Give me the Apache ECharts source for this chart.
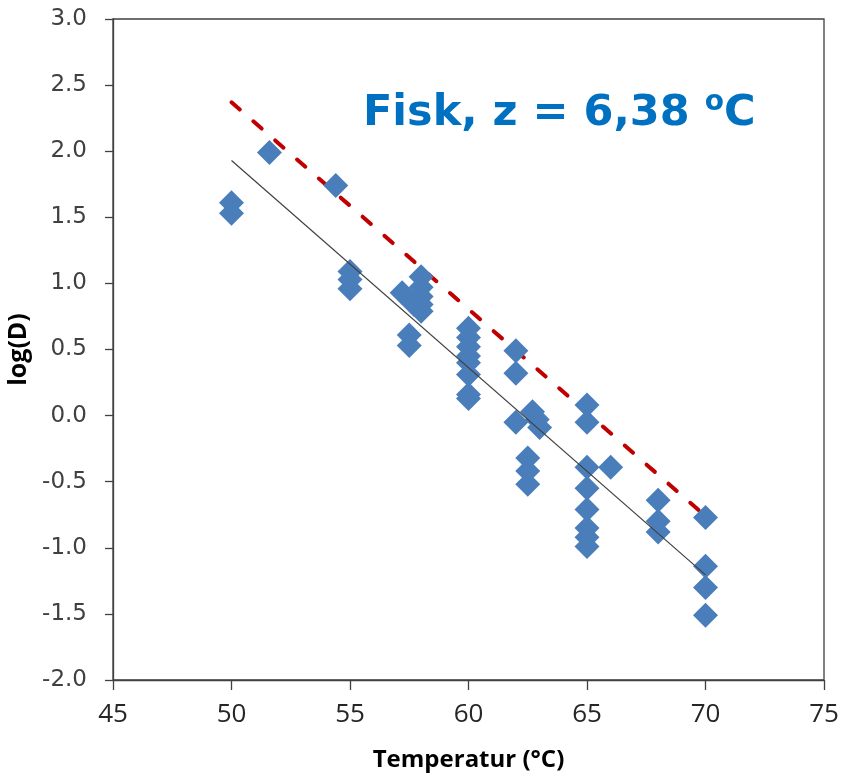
<!DOCTYPE html>
<html>
<head>
<meta charset="utf-8">
<script src="https://cdn.jsdelivr.net/npm/echarts@6/dist/echarts.min.js"></script>
<style>
html,body{margin:0;padding:0;background:#fff;}
#chart{width:848px;height:779px;}
</style>
</head>
<body>
<div id="chart"></div>
<script>
// Measured points: temperature (°C) and log(D)
const tempX = [50, 50, 51.6, 54.4, 55, 55, 55, 57.2, 57.7, 57.5, 57.5, 58, 58, 58, 58, 58,
  60, 60, 60, 60, 60, 60, 60, 60, 62, 62, 62, 62.7, 62.9, 63.0, 62.5, 62.5, 62.5,
  65, 65, 65, 66, 65, 65, 65, 65, 65, 68, 68, 68, 70, 70, 70, 70];
const logD = [1.61, 1.53, 1.99, 1.74, 1.09, 1.03, 0.96, 0.93, 0.84, 0.61, 0.53, 1.05, 0.97, 0.90, 0.84, 0.79,
  0.66, 0.59, 0.52, 0.45, 0.40, 0.31, 0.16, 0.13, 0.49, 0.32, -0.05, 0.03, -0.03, -0.09, -0.32, -0.42, -0.52,
  0.08, -0.05, -0.39, -0.39, -0.55, -0.71, -0.85, -0.92, -0.99, -0.64, -0.80, -0.88, -0.77, -1.14, -1.30, -1.51];
// Regression line (solid) and safety line (dashed)
const fitX = [50, 70];
const fitY = [1.93, -1.205];
const dashX = [50, 70];
const dashY = [2.37, -0.76];
// Axis ticks
const xTicks = [45, 50, 55, 60, 65, 70, 75];
const yTicks = [-2.0, -1.5, -1.0, -0.5, 0.0, 0.5, 1.0, 1.5, 2.0, 2.5, 3.0];
const annotation = ['Fisk, z = 6,38 ', 'o', 'C'];

const scatterData = tempX.map((x, i) => [x, logD[i]]);
const fitData = fitX.map((x, i) => [x, fitY[i]]);
const dashData = dashX.map((x, i) => [x, dashY[i]]);

const axisColor = '#404040';
const chart = echarts.init(document.getElementById('chart'));
chart.setOption({
  animation: false,
  backgroundColor: '#ffffff',
  grid: {
    left: 113, top: 19, right: 24, bottom: 99,
    outerBoundsMode: 'none', containLabel: false,
    show: true, borderColor: axisColor, borderWidth: 1.3, backgroundColor: 'transparent'
  },
  xAxis: {
    type: 'value',
    min: xTicks[0], max: xTicks[xTicks.length - 1], interval: 5,
    name: 'Temperatur (°C)', nameLocation: 'middle', nameGap: 68,
    nameTextStyle: { fontFamily: 'Open Sans', fontWeight: 'bold', fontSize: 24, color: '#000' },
    axisLine: { onZero: false, lineStyle: { color: axisColor, width: 1.3 } },
    axisTick: { show: true, length: 10, inside: false, lineStyle: { color: axisColor, width: 1.3 } },
    axisLabel: { fontFamily: 'Open Sans', fontSize: 26, color: '#262626', margin: 22,
      formatter: v => String(v) },
    splitLine: { show: false }
  },
  yAxis: {
    type: 'value',
    min: yTicks[0], max: yTicks[yTicks.length - 1], interval: 0.5,
    name: 'log(D)', nameLocation: 'middle', nameGap: 71, nameRotate: 90,
    nameTextStyle: { fontFamily: 'Open Sans', fontWeight: 'bold', fontSize: 25, color: '#000' },
    axisLine: { show: true, onZero: false, lineStyle: { color: axisColor, width: 1.3 } },
    axisTick: { show: true, length: 8, inside: false, lineStyle: { color: axisColor, width: 1.3 } },
    axisLabel: { fontFamily: 'DejaVu Sans', fontSize: 23, color: '#404040', margin: 26,
      formatter: v => v.toFixed(1) },
    splitLine: { show: false }
  },
  series: [
    {
      type: 'line', data: dashData, symbol: 'none', z: 2,
      lineStyle: { color: '#C00000', width: 4, type: [11, 18], cap: 'round' }
    },
    {
      type: 'scatter', data: scatterData, symbol: 'diamond', symbolSize: 25, z: 3,
      itemStyle: { color: '#4A7EBB', opacity: 1 }
    },
    {
      type: 'line', data: fitData, symbol: 'none', z: 4,
      lineStyle: { color: '#404040', width: 1.2 }
    }
  ],
  graphic: [
    {
      type: 'text', left: 363, top: 89, z: 10,
      style: {
        text: '{a|' + annotation[0] + '}{s|' + annotation[1] + '}{a|' + annotation[2] + '}',
        rich: {
          a: { fontFamily: 'DejaVu Sans', fontWeight: 'bold', fontSize: 43, lineHeight: 50, fill: '#0070C0', color: '#0070C0' },
          s: { fontFamily: 'DejaVu Sans', fontWeight: 'bold', fontSize: 28, lineHeight: 30, verticalAlign: 'top', fill: '#0070C0', color: '#0070C0' }
        }
      }
    }
  ]
});
</script>
</body>
</html>
